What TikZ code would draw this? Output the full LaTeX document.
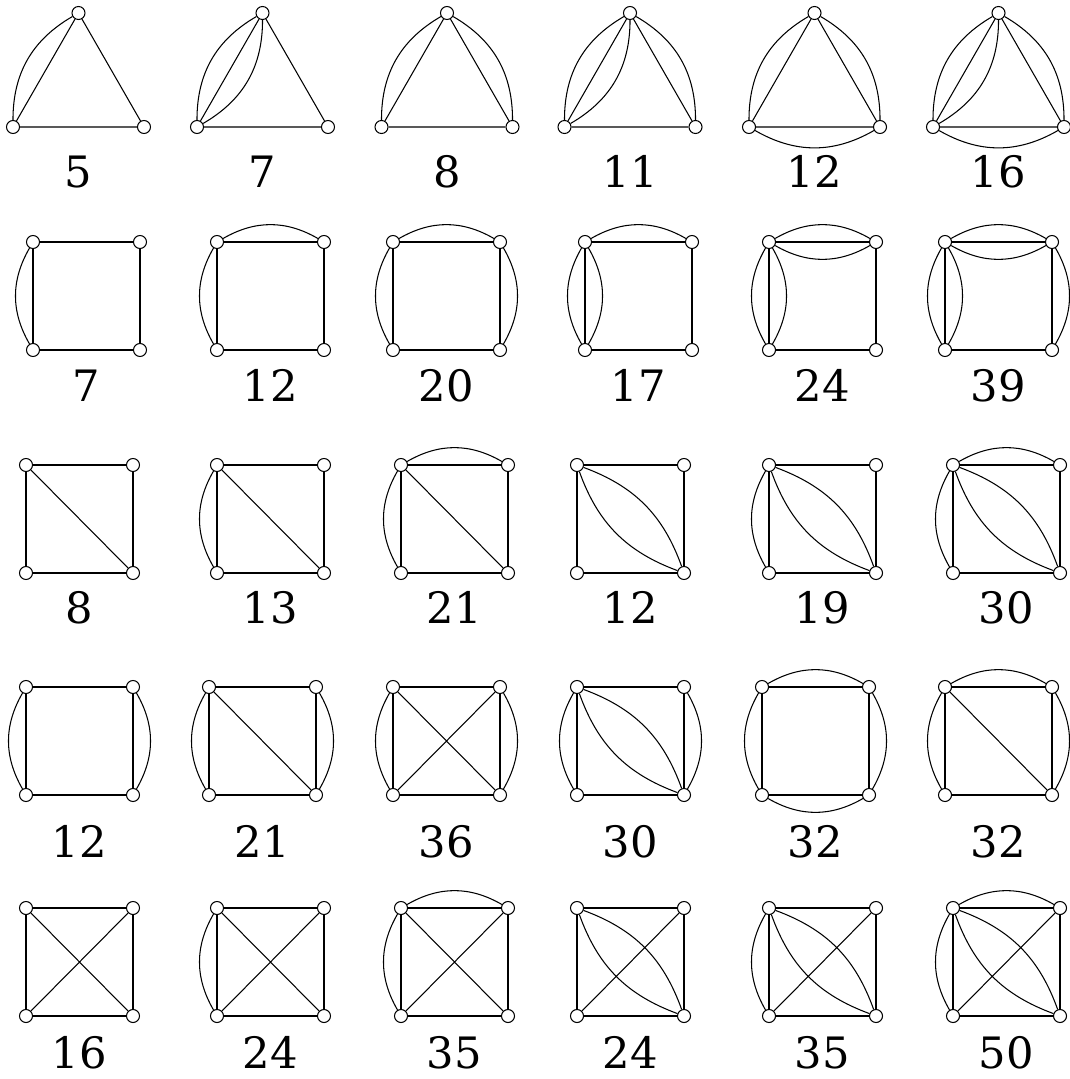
\documentclass[tikz,border=0pt]{standalone}
\usepackage{fontspec}
\setmainfont{DejaVu Serif}
\usetikzlibrary{calc}
\tikzset{
  vertex/.style={circle, draw=black, fill=white, line width=0.3pt, minimum size=1.3mm, inner sep=0pt},
  numlabel/.style={anchor=base, inner sep=0pt, font=\fontsize{12.3}{14}\selectfont},
  link/.style={draw=black, line width=0.3pt}
}
\newcommand{\trinodes}[3]{%
  \node[vertex] (#1t) at (#2,13) {};
  \node[vertex] (#1l) at (#2-65.5,127) {};
  \node[vertex] (#1r) at (#2+65.5,127) {};
  \node[numlabel] (#1n) at (#2,188) {#3};
  \draw[link] (#1t) -- (#1l) (#1t) -- (#1r) (#1l) -- (#1r);
}
\newcommand{\sqnodes}[5]{%
  \node[vertex] (#1a) at (#2,#3) {};
  \node[vertex] (#1b) at (#2+107,#3) {};
  \node[vertex] (#1c) at (#2,#3+108) {};
  \node[vertex] (#1d) at (#2+107,#3+108) {};
  \node[numlabel] (#1n) at (#2+53.5,#5) {#4};
  \draw[link] (#1a) -- (#1b) -- (#1d) -- (#1c) -- (#1a);
}

\begin{document}
\begin{tikzpicture}[x=0.01cm, y=-0.01cm]
\useasboundingbox (0,0) rectangle (1070,1079);

\trinodes{g11}{78.5}{5}
\draw[link] (g11l) to[bend left=30] (g11t);
\trinodes{g12}{262.5}{7}
\draw[link] (g12l) to[bend left=30] (g12t) (g12l) to[bend right=30] (g12t);
\trinodes{g13}{447}{8}
\draw[link] (g13l) to[bend left=30] (g13t) (g13t) to[bend left=30] (g13r);
\trinodes{g14}{630}{11}
\draw[link] (g14l) to[bend left=30] (g14t) (g14l) to[bend right=30] (g14t) (g14t) to[bend left=30] (g14r);
\trinodes{g15}{814.5}{12}
\draw[link] (g15l) to[bend left=30] (g15t) (g15t) to[bend left=30] (g15r) (g15l) to[bend right=30] (g15r);
\trinodes{g16}{998.5}{16}
\draw[link] (g16l) to[bend left=30] (g16t) (g16l) to[bend right=30] (g16t) (g16t) to[bend left=30] (g16r) (g16l) to[bend right=30] (g16r);

\sqnodes{g21}{33}{242}{7}{401}
\draw[link] (g21a) to[bend right=30] (g21c);
\sqnodes{g22}{217}{242}{12}{401}
\draw[link] (g22a) to[bend right=30] (g22c) (g22a) to[bend left=30] (g22b);
\sqnodes{g23}{393}{242}{20}{401}
\draw[link] (g23a) to[bend right=30] (g23c) (g23a) to[bend left=30] (g23b) (g23b) to[bend left=30] (g23d);
\sqnodes{g24}{585}{242}{17}{401}
\draw[link] (g24a) to[bend right=30] (g24c) (g24a) to[bend left=30] (g24c) (g24a) to[bend left=30] (g24b);
\sqnodes{g25}{769}{242}{24}{401}
\draw[link] (g25a) to[bend right=30] (g25c) (g25a) to[bend left=30] (g25c) (g25a) to[bend left=30] (g25b) (g25a) to[bend right=30] (g25b);
\sqnodes{g26}{945}{242}{39}{401}
\draw[link] (g26a) to[bend right=30] (g26c) (g26a) to[bend left=30] (g26c) (g26a) to[bend left=30] (g26b) (g26a) to[bend right=30] (g26b) (g26b) to[bend left=30] (g26d);

\sqnodes{g31}{26}{465}{8}{623}
\draw[link] (g31a) -- (g31d);
\sqnodes{g32}{217}{465}{13}{623}
\draw[link] (g32a) -- (g32d) (g32a) to[bend right=30] (g32c);
\sqnodes{g33}{401}{465}{21}{623}
\draw[link] (g33a) -- (g33d) (g33a) to[bend right=30] (g33c) (g33a) to[bend left=30] (g33b);
\sqnodes{g34}{577}{465}{12}{623}
\draw[link] (g34a) to[bend left=25] (g34d) (g34a) to[bend right=25] (g34d);
\sqnodes{g35}{769}{465}{19}{623}
\draw[link] (g35a) to[bend left=25] (g35d) (g35a) to[bend right=25] (g35d) (g35a) to[bend right=30] (g35c);
\sqnodes{g36}{953}{465}{30}{623}
\draw[link] (g36a) to[bend left=25] (g36d) (g36a) to[bend right=25] (g36d) (g36a) to[bend right=30] (g36c) (g36a) to[bend left=30] (g36b);

\sqnodes{g41}{26}{687}{12}{857}
\draw[link] (g41a) to[bend right=30] (g41c) (g41b) to[bend left=30] (g41d);
\sqnodes{g42}{209}{687}{21}{857}
\draw[link] (g42a) -- (g42d) (g42a) to[bend right=30] (g42c) (g42b) to[bend left=30] (g42d);
\sqnodes{g43}{393}{687}{36}{857}
\draw[link] (g43a) -- (g43d) (g43b) -- (g43c) (g43a) to[bend right=30] (g43c) (g43b) to[bend left=30] (g43d);
\sqnodes{g44}{577}{687}{30}{857}
\draw[link] (g44a) to[bend left=25] (g44d) (g44a) to[bend right=25] (g44d) (g44a) to[bend right=30] (g44c) (g44b) to[bend left=30] (g44d);
\sqnodes{g45}{762}{687}{32}{857}
\draw[link] (g45a) to[bend right=30] (g45c) (g45b) to[bend left=30] (g45d) (g45a) to[bend left=30] (g45b) (g45c) to[bend right=30] (g45d);
\sqnodes{g46}{945}{687}{32}{857}
\draw[link] (g46a) -- (g46d) (g46a) to[bend right=30] (g46c) (g46a) to[bend left=30] (g46b) (g46b) to[bend left=30] (g46d);

\sqnodes{g51}{26}{908}{16}{1068}
\draw[link] (g51a) -- (g51d) (g51b) -- (g51c);
\sqnodes{g52}{217}{908}{24}{1068}
\draw[link] (g52a) -- (g52d) (g52b) -- (g52c) (g52a) to[bend right=30] (g52c);
\sqnodes{g53}{401}{908}{35}{1068}
\draw[link] (g53a) -- (g53d) (g53b) -- (g53c) (g53a) to[bend right=30] (g53c) (g53a) to[bend left=30] (g53b);
\sqnodes{g54}{577}{908}{24}{1068}
\draw[link] (g54b) -- (g54c) (g54a) to[bend left=25] (g54d) (g54a) to[bend right=25] (g54d);
\sqnodes{g55}{769}{908}{35}{1068}
\draw[link] (g55b) -- (g55c) (g55a) to[bend left=25] (g55d) (g55a) to[bend right=25] (g55d) (g55a) to[bend right=30] (g55c);
\sqnodes{g56}{953}{908}{50}{1068}
\draw[link] (g56b) -- (g56c) (g56a) to[bend left=25] (g56d) (g56a) to[bend right=25] (g56d) (g56a) to[bend right=30] (g56c) (g56a) to[bend left=30] (g56b);
\end{tikzpicture}
\end{document}
